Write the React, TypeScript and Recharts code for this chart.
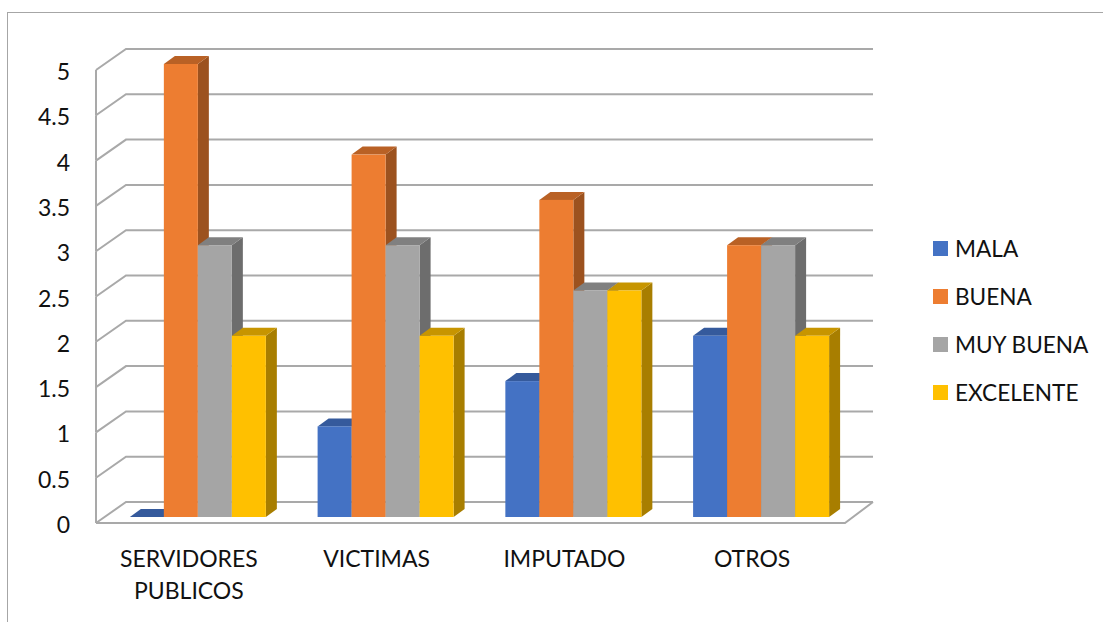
import { BarChart, Bar, XAxis, YAxis, CartesianGrid, Legend } from 'recharts';

const categories = ['SERVIDORES PUBLICOS', 'VICTIMAS', 'IMPUTADO', 'OTROS'];
const mala = [0, 1, 1.5, 2];
const buena = [5, 4, 3.5, 3];
const muyBuena = [3, 3, 2.5, 3];
const excelente = [2, 2, 2.5, 2];
const yTicks = [0, 0.5, 1, 1.5, 2, 2.5, 3, 3.5, 4, 4.5, 5];

const rows = categories.map((name, i) => ({
  name,
  MALA: mala[i],
  BUENA: buena[i],
  'MUY BUENA': muyBuena[i],
  EXCELENTE: excelente[i],
}));

const series = [
  { key: 'MALA', front: '#4472c4', top: '#355a9c', side: '#2c4a80' },
  { key: 'BUENA', front: '#ed7d31', top: '#b96125', side: '#9c521f' },
  { key: 'MUY BUENA', front: '#a5a5a5', top: '#808080', side: '#6d6d6d' },
  { key: 'EXCELENTE', front: '#ffc000', top: '#c79500', side: '#a87e00' },
];

const FONT = 'Lato, Carlito, sans-serif';
const WALL = '#a9a9a9';

// plot box is the plane of the bar fronts; the walls are offset from it
const PLOT_LEFT = 104;
const PLOT_RIGHT = 855;
const PLOT_TOP = 64;
const PLOT_BOTTOM = 517;
const WALL_LEFT = 96;
const WALL_FRONT_RIGHT = 845;
const BACK_LEFT = 126;
const BACK_RIGHT = 873;
const WALL_DY = 6;
const BACK_DY = -15;
const STEP = (PLOT_BOTTOM - PLOT_TOP) / 10;
const LEGEND_WIDTH = 170;

// one grid level: diagonal on the side wall plus the line along the back
function WallLine(props: any) {
  const y = props.y1;
  const isFloor = Math.abs(y - PLOT_BOTTOM) < 1;
  const isTop = Math.abs(y - PLOT_TOP) < 1;
  const pts = `${WALL_LEFT},${y + WALL_DY} ${BACK_LEFT},${y + BACK_DY} ${BACK_RIGHT},${y + BACK_DY}`;
  return (
    <g key={props.key} fill="none" stroke={WALL} strokeWidth={2}>
      <polyline points={pts} />
      {!isTop && <line x1={WALL_LEFT} y1={y + WALL_DY - STEP} x2={WALL_LEFT} y2={y + WALL_DY} />}
      {isFloor && (
        <polyline
          points={`${WALL_LEFT},${y + WALL_DY} ${WALL_FRONT_RIGHT},${y + WALL_DY} ${BACK_RIGHT},${y + BACK_DY}`}
        />
      )}
    </g>
  );
}

function Bar3D(props: any) {
  const { x, y, width, height, front, top, side } = props;
  const dx = 11;
  const dy = 8;
  const right = x + width;
  const bottom = y + height;
  return (
    <g>
      <polygon points={`${right},${y} ${right + dx},${y - dy} ${right + dx},${bottom - dy} ${right},${bottom}`} fill={side} />
      <polygon points={`${x},${y} ${x + dx},${y - dy} ${right + dx},${y - dy} ${right},${y}`} fill={top} />
      <rect x={x} y={y} width={width} height={height} fill={front} />
    </g>
  );
}

function ValueTick({ x, y, payload }: any) {
  return (
    <text x={x - 26} y={y + 16} textAnchor="end" fontFamily={FONT} fontSize={23} fill="#111">
      {payload.value}
    </text>
  );
}

function CategoryTick({ x, y, payload }: any) {
  const lines = String(payload.value).split(' ');
  return (
    <text textAnchor="middle" fontFamily={FONT} fontSize={23} fill="#111">
      {lines.map((line, i) => (
        <tspan key={line} x={x - 9} y={y + 42 + i * 32}>
          {line}
        </tspan>
      ))}
    </text>
  );
}

function LegendBox() {
  return (
    <div style={{ fontFamily: FONT, fontSize: 22.6, color: '#111' }}>
      {series.map((s) => (
        <div key={s.key} style={{ display: 'flex', alignItems: 'center', height: 48, whiteSpace: 'nowrap' }}>
          <span style={{ width: 15, height: 15, marginRight: 7, background: s.front }} />
          <span>{s.key}</span>
        </div>
      ))}
    </div>
  );
}

export default function App() {
  return (
    <div style={{ position: 'absolute', left: 0, top: 0, width: 1103, height: 622, overflow: 'hidden', background: '#fff' }}>
      <div
        style={{
          position: 'absolute',
          left: 7,
          top: 12,
          width: 1200,
          height: 700,
          border: '1px solid #a6a6a6',
        }}
      />
      <BarChart
        width={1103}
        height={622}
        data={rows}
        barCategoryGap="13.77%"
        barGap={0}
        margin={{ top: PLOT_TOP, right: 1103 - PLOT_RIGHT - LEGEND_WIDTH, bottom: 0, left: 0 }}
      >
        <CartesianGrid vertical={false} horizontal={WallLine} />
        <XAxis dataKey="name" height={622 - PLOT_BOTTOM} axisLine={false} tickLine={false} interval={0} tick={<CategoryTick />} />
        <YAxis width={PLOT_LEFT} domain={[0, 5]} ticks={yTicks} axisLine={false} tickLine={false} interval={0} tick={<ValueTick />} />
        <Legend
          content={<LegendBox />}
          layout="vertical"
          align="right"
          verticalAlign="top"
          wrapperStyle={{ left: 933, top: 224, width: LEGEND_WIDTH }}
        />
        {series.map((s) => (
          <Bar
            key={s.key}
            dataKey={s.key}
            isAnimationActive={false}
            fill={s.front}
            shape={(p: any) => <Bar3D {...p} front={s.front} top={s.top} side={s.side} />}
          />
        ))}
      </BarChart>
    </div>
  );
}
